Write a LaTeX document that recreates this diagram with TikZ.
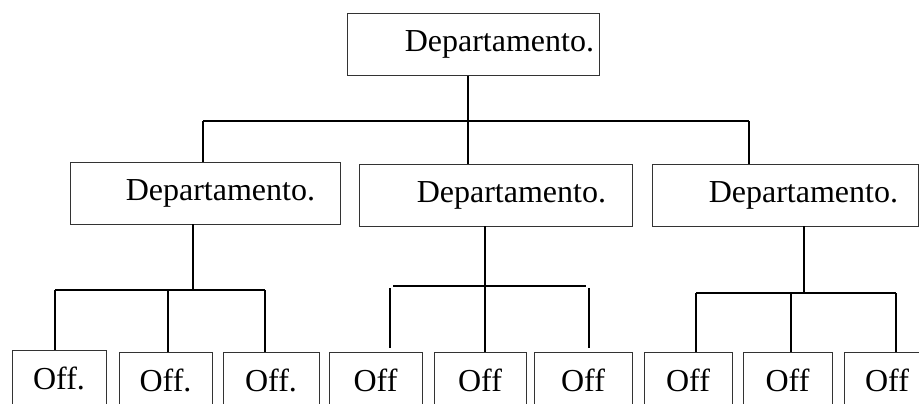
\documentclass[tikz,border=0pt]{standalone}
\usepackage{fontspec}
\setmainfont{Liberation Serif}
\usetikzlibrary{calc}

\begin{document}
\begin{tikzpicture}[x=1pt, y=-1pt,
  box/.style={draw=black!80, line width=0.9pt, inner ysep=0pt, font=\fontsize{32}{38}\selectfont},
  deptbox/.style={box, minimum height=62pt, align=right},
  offbox/.style={box, minimum height=56pt, inner xsep=0pt},
  link/.style={line width=1.1pt}]
  \useasboundingbox (0,0) rectangle (919,404);
  \clip (0,0) rectangle (919,404);

  \node[deptbox, text width=242pt, inner xsep=5pt] (dep0) at (473,44.5) {Departamento.};
  \node[deptbox, text width=220pt, inner xsep=25pt] (dep1) at (205,193) {Departamento.};
  \node[deptbox, text width=221pt, inner xsep=26pt] (dep2) at (495.5,195) {Departamento.};
  \node[deptbox, text width=226pt, inner xsep=20pt] (dep3) at (785,195) {Departamento.};

  \node[offbox, minimum width=94pt] (off1) at (59,378) {Off.};
  \node[offbox, minimum width=93pt] (off2) at (165.5,380) {Off.};
  \node[offbox, minimum width=96pt] (off3) at (271,380) {Off.};
  \node[offbox, minimum width=93pt] (off4) at (375.5,380) {Off};
  \node[offbox, minimum width=92pt] (off5) at (480,380) {Off};
  \node[offbox, minimum width=98pt] (off6) at (583,380) {Off};
  \node[offbox, minimum width=88pt] (off7) at (688,380) {Off};
  \node[offbox, minimum width=89pt] (off8) at (787.5,380) {Off};
  \node[offbox, minimum width=86pt] (off9) at (887,380) {Off};

  % first level
  \coordinate (j0) at (468,121);
  \coordinate (b0l) at (203,121);
  \coordinate (b0r) at (749,121);
  \draw[link] (dep0.south -| j0) -- (j0);
  \draw[link] (b0l) -- (b0r);
  \draw[link] (b0l) -- (dep1.north -| b0l);
  \draw[link] (j0) -- (dep2.north -| j0);
  \draw[link] (b0r) -- (dep3.north -| b0r);

  % left group
  \coordinate (j1) at (193,290);
  \coordinate (b1l) at (55,290);
  \coordinate (b1r) at (265,290);
  \coordinate (b1m) at (168,290);
  \draw[link] (dep1.south -| j1) -- (j1);
  \draw[link] (b1l) -- (b1r);
  \draw[link] (b1l) -- (off1.north -| b1l);
  \draw[link] (b1m) -- (off2.north -| b1m);
  \draw[link] (b1r) -- (off3.north -| b1r);

  % middle group
  \coordinate (j2) at (485,286);
  \coordinate (b2l) at (393,286);
  \coordinate (b2r) at (586,286);
  \coordinate (t4) at (390,288);
  \coordinate (t6) at (589,288);
  \draw[link] (dep2.south -| j2) -- (j2);
  \draw[link] (b2l) -- (b2r);
  \draw[link] (t4) -- ($(off4.north -| t4)+(0,-4)$);
  \draw[link] (j2) -- (off5.north -| j2);
  \draw[link] (t6) -- ($(off6.north -| t6)+(0,-4)$);

  % right group
  \coordinate (j3) at (804,293);
  \coordinate (b3l) at (696,293);
  \coordinate (b3r) at (896,293);
  \coordinate (b3m) at (791,293);
  \draw[link] (dep3.south -| j3) -- (j3);
  \draw[link] (b3l) -- (b3r);
  \draw[link] (b3l) -- (off7.north -| b3l);
  \draw[link] (b3m) -- (off8.north -| b3m);
  \draw[link] (b3r) -- (off9.north -| b3r);
\end{tikzpicture}
\end{document}
